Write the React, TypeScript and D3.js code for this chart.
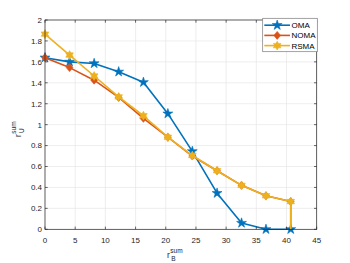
import { line, scaleLinear } from "d3";

const W = 350;
const H = 263;

// x positions (r_B^sum)
const xVals = [0, 4.07, 8.14, 12.2, 16.3, 20.35, 24.4, 28.5, 32.55, 36.6, 40.7];

const omaVals = [1.64, 1.6, 1.585, 1.505, 1.405, 1.105, 0.745, 0.345, 0.06, 0.0, 0.0];
const nomaVals = [1.64, 1.545, 1.425, 1.26, 1.06, 0.88, 0.7, 0.56, 0.42, 0.32, 0.265];
const rsmaVals = [1.865, 1.665, 1.465, 1.265, 1.085, 0.88, 0.705, 0.56, 0.42, 0.32, 0.265];
// RSMA ends with a vertical drop at the last x
const rsmaDrop = 0;

const xTicks = [0, 5, 10, 15, 20, 25, 30, 35, 40, 45];
const yTicks = [0, 0.2, 0.4, 0.6, 0.8, 1, 1.2, 1.4, 1.6, 1.8, 2];

const seriesNames = ["OMA", "NOMA", "RSMA"];
const colors = ["#0072BD", "#D95319", "#EDB120"];

const AXIS = "#262626";
const GRID = "#e3e3e3";
const FONT = "'Liberation Sans', Arial, sans-serif";

// star with n points, outer radius R, inner ratio k
const starPath = (n: number, R: number, k: number) => {
  const pts: string[] = [];
  for (let i = 0; i < n * 2; i++) {
    const r = i % 2 === 0 ? R : R * k;
    const a = (Math.PI / n) * i - Math.PI / 2;
    pts.push(`${(r * Math.cos(a)).toFixed(2)},${(r * Math.sin(a)).toFixed(2)}`);
  }
  return `M${pts.join("L")}Z`;
};

const pentagram = starPath(5, 5.2, 0.382);
const hexagram = starPath(6, 4.4, 0.577);
const diamond = "M0,-4L3.4,0L0,4L-3.4,0Z";
const markers = [pentagram, diamond, hexagram];

export default function App() {
  const x = scaleLinear().domain([0, 45]).range([45, 316.7]);
  const y = scaleLinear().domain([0, 2]).range([229.3, 20]);

  const ln = line<[number, number]>()
    .x((d) => x(d[0]))
    .y((d) => y(d[1]));

  const series = [omaVals, nomaVals, rsmaVals].map((vals) =>
    vals.map((v, i) => [xVals[i], v] as [number, number])
  );
  const rsmaLine = [...series[2], [xVals[xVals.length - 1], rsmaDrop] as [number, number]];
  const linePts = [series[0], [...series[1], [xVals[xVals.length - 1], rsmaDrop] as [number, number]], rsmaLine];

  const [x0, x1] = x.range();
  const [y0, y1] = y.range();
  const tl = 2.7;

  const legX = 262.7;
  const legY = 18.3;
  const legW = 54.6;
  const legH = 33.4;
  const rowY = [25.2, 35.4, 45.6];

  return (
    <svg
      width={W}
      height={H}
      style={{ position: "absolute", left: 0, top: 0, background: "#fff" }}
      fontFamily={FONT}
    >
      <rect x={0} y={0} width={W} height={H} fill="#fff" />
      {/* grid */}
      <g stroke={GRID} strokeWidth={0.6}>
        {xTicks.map((t) => (
          <line key={`gx${t}`} x1={x(t)} x2={x(t)} y1={y0} y2={y1} />
        ))}
        {yTicks.map((t) => (
          <line key={`gy${t}`} x1={x0} x2={x1} y1={y(t)} y2={y(t)} />
        ))}
      </g>

      {/* series */}
      {linePts.map((pts, s) => (
        <g key={seriesNames[s]}>
          <path d={ln(pts) ?? ""} fill="none" stroke={colors[s]} strokeWidth={1.6} strokeLinejoin="round" />
          {series[s].map((p, i) => (
            <path
              key={i}
              d={markers[s]}
              transform={`translate(${x(p[0])},${y(p[1])})`}
              fill={colors[s]}
              stroke={colors[s]}
              strokeWidth={0.6}
              strokeLinejoin="round"
            />
          ))}
        </g>
      ))}

      {/* axes box + ticks */}
      <g stroke={AXIS} strokeWidth={0.7} fill="none">
        <rect x={x0} y={y1} width={x1 - x0} height={y0 - y1} />
        {xTicks.map((t) => (
          <g key={`tx${t}`}>
            <line x1={x(t)} x2={x(t)} y1={y0} y2={y0 - tl} />
            <line x1={x(t)} x2={x(t)} y1={y1} y2={y1 + tl} />
          </g>
        ))}
        {yTicks.map((t) => (
          <g key={`ty${t}`}>
            <line x1={x0} x2={x0 + tl} y1={y(t)} y2={y(t)} />
            <line x1={x1} x2={x1 - tl} y1={y(t)} y2={y(t)} />
          </g>
        ))}
      </g>

      {/* tick labels */}
      <g fontSize={8} fill={AXIS}>
        {xTicks.map((t) => (
          <text key={`lx${t}`} x={x(t)} y={243} textAnchor="middle">
            {t}
          </text>
        ))}
        {yTicks.map((t) => (
          <text key={`ly${t}`} x={42} y={y(t) + 2.9} textAnchor="end">
            {t}
          </text>
        ))}
      </g>

      {/* axis labels */}
      <text x={167} y={257.5} fontSize={8.5} fill={AXIS}>
        r
        <tspan fontSize={6.5} dy={-5} dx={0.5}>sum</tspan>
        <tspan fontSize={6.5} dx={-11.5} dy={8.5}>B</tspan>
      </text>
      <text transform="translate(20.5,137) rotate(-90)" fontSize={8.5} fill={AXIS}>
        r
        <tspan fontSize={6.5} dy={-5} dx={0.5}>sum</tspan>
        <tspan fontSize={6.5} dx={-11.5} dy={8.5}>U</tspan>
      </text>

      {/* legend */}
      <rect x={legX} y={legY} width={legW} height={legH} fill="#fff" stroke="#7a7a7a" strokeWidth={0.7} />
      {seriesNames.map((name, s) => (
        <g key={`leg${name}`}>
          <line x1={264.3} x2={290} y1={rowY[s]} y2={rowY[s]} stroke={colors[s]} strokeWidth={1.6} />
          <path
            d={markers[s]}
            transform={`translate(277.2,${rowY[s]})`}
            fill={colors[s]}
            stroke={colors[s]}
            strokeWidth={0.6}
          />
          <text x={291.5} y={rowY[s] + 2.9} fontSize={8} fill="#000">
            {name}
          </text>
        </g>
      ))}
    </svg>
  );
}
